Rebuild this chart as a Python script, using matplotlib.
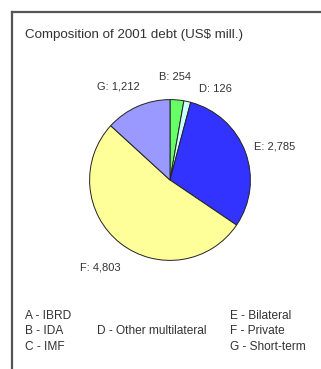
import numpy as np
import matplotlib.pyplot as plt
from matplotlib.lines import Line2D

plt.rcParams['font.family'] = ['Liberation Sans', 'DejaVu Sans']

# 2001 debt by creditor, US$ millions (A, C not shown in pie)
codes = ["B", "D", "E", "F", "G"]
values = [254, 126, 2785, 4803, 1212]
value_labels = ["254", "126", "2,785", "4,803", "1,212"]
colors = ["#66ff66", "#ccffff", "#3333ff", "#ffff99", "#9999ff"]
label_radius = [1.28, 1.27, 1.37, 1.39, 1.33]
label_shift = [-2, 14, 3, 0, -5]   # degrees, nudges for crowded labels

legend_left = ["A - IBRD", "B - IDA", "C - IMF"]
legend_mid = ["", "D - Other multilateral", ""]
legend_right = ["E - Bilateral", "F - Private", "G - Short-term"]

W, H = 321, 369
fig = plt.figure(figsize=(W / 100, H / 100), dpi=100)

# frame: top and left rule only
fig.add_artist(Line2D([12 / W, 1], [1 - 12 / H, 1 - 12 / H], color="#555555", lw=1.6))
fig.add_artist(Line2D([12 / W, 12 / W], [0, 1 - 12 / H], color="#555555", lw=1.6))

fig.text(25 / W, 1 - 35 / H, "Composition of 2001 debt (US$ mill.)",
         fontsize=9.6, color="#333333", va="center", ha="left")

cx, cy, r = 170, 180, 82
ax = fig.add_axes([(cx - r) / W, 1 - (cy + r) / H, 2 * r / W, 2 * r / H])
wedges, _ = ax.pie(values, colors=colors, startangle=90, counterclock=False,
                   wedgeprops=dict(edgecolor="#222222", linewidth=0.7))
ax.set_xlim(-1.02, 1.02)
ax.set_ylim(-1.02, 1.02)

for w, code, txt, rad, sh in zip(wedges, codes, value_labels, label_radius, label_shift):
    ang = np.deg2rad((w.theta1 + w.theta2) / 2 - sh)
    ax.text(rad * np.cos(ang), rad * np.sin(ang), f"{code}: {txt}",
            fontsize=8, color="#333333", ha="center", va="center", clip_on=False)

for i in range(3):
    y = 1 - (316 + 15.5 * i) / H
    fig.text(25 / W, y, legend_left[i], fontsize=8.6, color="#333333", va="center")
    fig.text(97 / W, y, legend_mid[i], fontsize=8.6, color="#333333", va="center")
    fig.text(230 / W, y, legend_right[i], fontsize=8.6, color="#333333", va="center")

fig.savefig("out.png", dpi=100, facecolor="white")
